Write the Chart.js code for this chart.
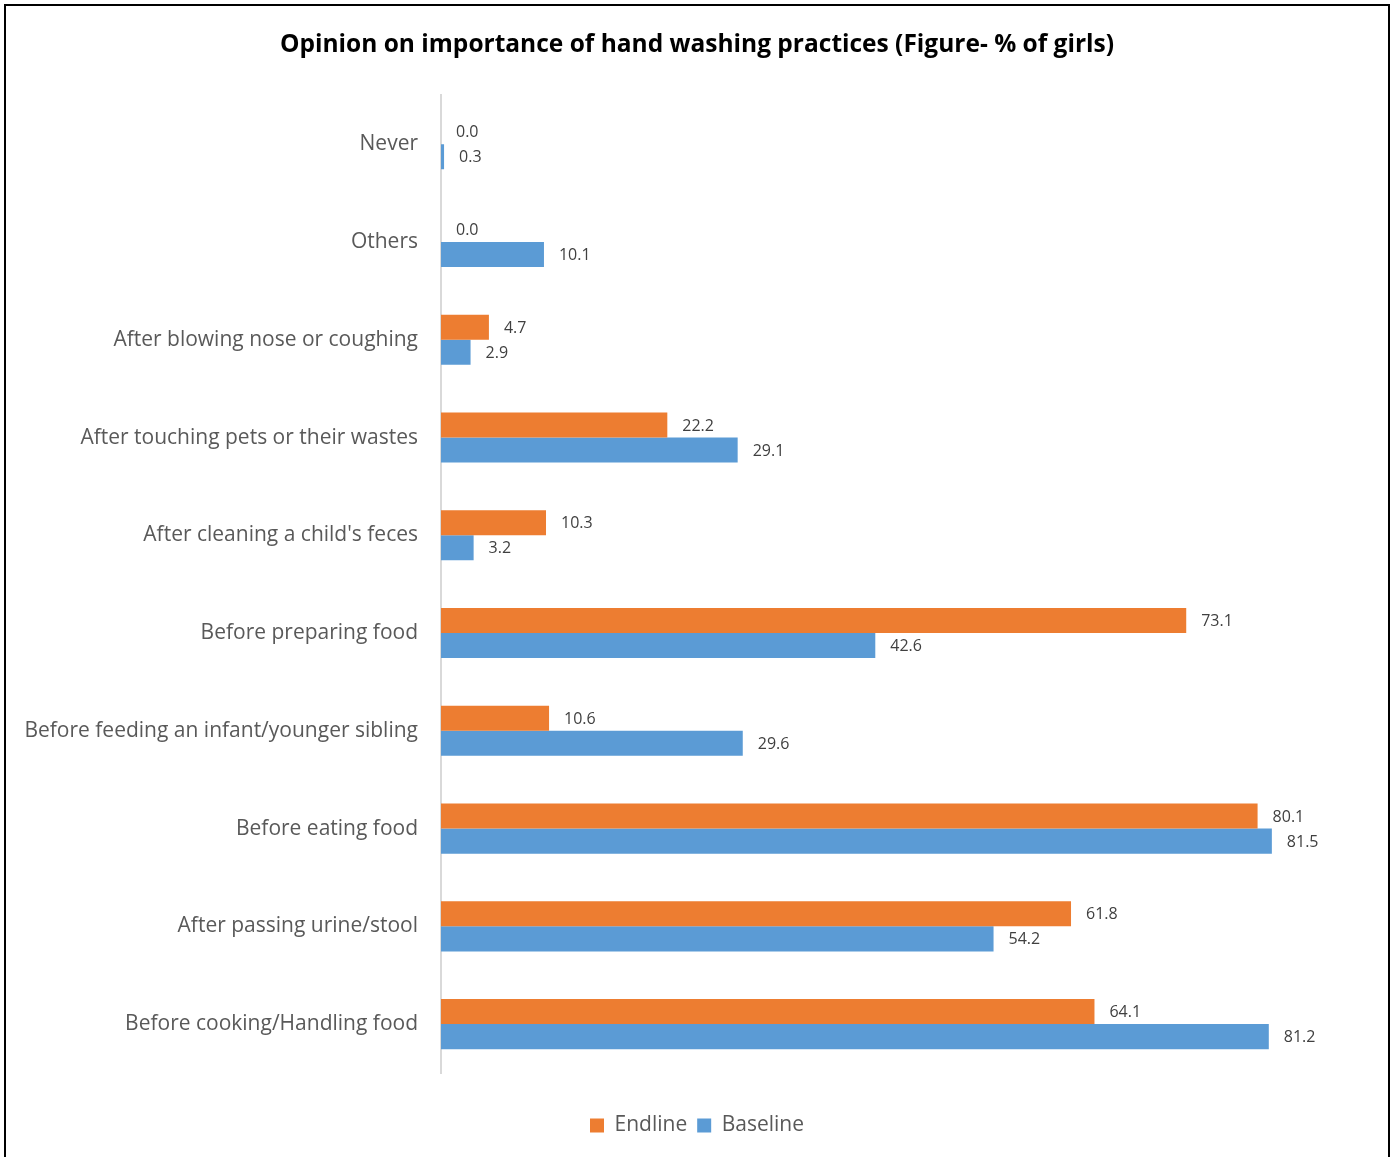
<!DOCTYPE html>
<html>
<head>
<meta charset="utf-8">
<title>Hand washing practices</title>
<script src="https://cdn.jsdelivr.net/npm/chart.js@4.4.1/dist/chart.umd.min.js"></script>
<style>
  html, body { margin: 0; padding: 0; background: #fff; }
  #wrap { position: relative; width: 1394px; height: 1157px; overflow: hidden; }
  #frame {
    position: absolute; left: 4px; top: 4px; width: 1386px; height: 1200px;
    box-sizing: border-box; border: 2px solid #000; pointer-events: none;
  }
</style>
</head>
<body>
<div id="wrap">
  <canvas id="handChart" width="1394" height="1157"></canvas>
  <div id="frame"></div>
</div>
<script>
// --- data ---
const categories = [
  'Never',
  'Others',
  'After blowing nose or coughing',
  'After touching pets or their wastes',
  "After cleaning a child's feces",
  'Before preparing food',
  'Before feeding an infant/younger sibling',
  'Before eating food',
  'After passing urine/stool',
  'Before cooking/Handling food'
];
const endline  = [0.0, 0.0, 4.7, 22.2, 10.3, 73.1, 10.6, 80.1, 61.8, 64.1];
const baseline = [0.3, 10.1, 2.9, 29.1, 3.2, 42.6, 29.6, 81.5, 54.2, 81.2];

const FONT = "'Open Sans', 'DejaVu Sans', sans-serif";

// value labels drawn just past the end of each bar
const barLabels = {
  id: 'barLabels',
  afterDatasetsDraw(chart) {
    const ctx = chart.ctx;
    ctx.save();
    ctx.font = '16px ' + FONT;
    ctx.fillStyle = '#404040';
    ctx.textAlign = 'left';
    ctx.textBaseline = 'middle';
    chart.data.datasets.forEach((ds, i) => {
      chart.getDatasetMeta(i).data.forEach((bar, j) => {
        ctx.fillText(ds.data[j].toFixed(1), bar.x + 15, bar.y + 1);
      });
    });
    ctx.restore();
  }
};

new Chart(document.getElementById('handChart'), {
  type: 'bar',
  data: {
    labels: categories,
    datasets: [
      { label: 'Endline',  data: endline,  backgroundColor: '#ED7D31' },
      { label: 'Baseline', data: baseline, backgroundColor: '#5B9BD5' }
    ]
  },
  options: {
    indexAxis: 'y',
    responsive: false,
    animation: false,
    categoryPercentage: 0.512,
    barPercentage: 1.0,
    layout: { padding: { left: 10, right: 10, top: 0, bottom: 11 } },
    scales: {
      x: {
        min: 0,
        max: 92.5,
        grid: { display: false },
        border: { display: false },
        ticks: { display: false },
        afterFit: s => { s.height = 32; }
      },
      y: {
        grid: { display: false, drawTicks: false },
        border: { color: '#D9D9D9', width: 2 },
        ticks: {
          padding: 23,
          color: '#595959',
          font: { family: FONT, size: 21 }
        },
        afterFit: s => { s.width = 431; }
      }
    },
    plugins: {
      title: {
        display: true,
        text: 'Opinion on importance of hand washing practices (Figure- % of girls)',
        color: '#000',
        font: { family: FONT, size: 24.5, weight: 'bold' },
        padding: { top: 30, bottom: 36 }
      },
      legend: {
        position: 'bottom',
        labels: {
          color: '#595959',
          font: { family: FONT, size: 21 },
          boxWidth: 14,
          boxHeight: 14,
          padding: 10
        }
      },
      tooltip: { enabled: false }
    }
  },
  plugins: [barLabels]
});
</script>
</body>
</html>
